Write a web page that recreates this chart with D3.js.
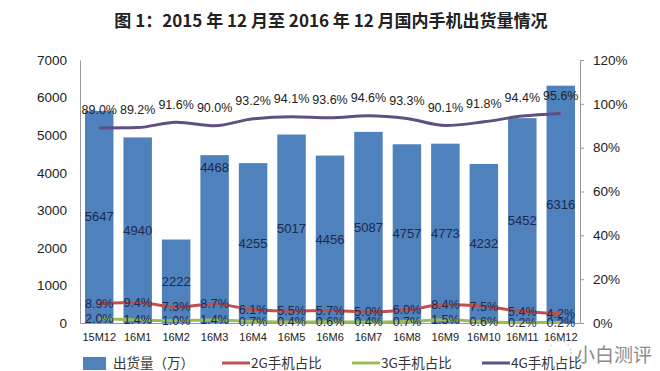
<!DOCTYPE html>
<html>
<head>
<meta charset="utf-8">
<script src="https://cdn.jsdelivr.net/npm/d3@7"></script>
<style>
  body { margin: 0; background: #fff; }
  svg { font-family: "Liberation Sans", "Noto Sans CJK SC", sans-serif; }
</style>
</head>
<body>
<svg id="chart" width="660" height="371"></svg>
<script>
// months, shipments (10k units) and share of each phone type (%)
var months = ["15M12","16M1","16M2","16M3","16M4","16M5","16M6","16M7","16M8","16M9","16M10","16M11","16M12"];
var shipments = [5647, 4940, 2222, 4468, 4255, 5017, 4456, 5087, 4757, 4773, 4232, 5452, 6316];
var share4G = [89.0, 89.2, 91.6, 90.0, 93.2, 94.1, 93.6, 94.6, 93.3, 90.1, 91.8, 94.4, 95.6];
var share2G = [8.9, 9.4, 7.3, 8.7, 6.1, 5.5, 5.7, 5.0, 6.0, 8.4, 7.5, 5.4, 4.2];
var share3G = [2.0, 1.4, 1.0, 1.4, 0.7, 0.4, 0.6, 0.4, 0.7, 1.5, 0.6, 0.2, 0.2];
var leftTicks = [0, 1000, 2000, 3000, 4000, 5000, 6000, 7000];
var rightTicks = [0, 20, 40, 60, 80, 100, 120];

var svg = d3.select("#chart");
var plot = {left: 80, right: 580, top: 60, bottom: 323};

/* title */
svg.append("text")
    .attr("x", 331).attr("y", 27)
    .attr("text-anchor", "middle")
    .style("font-family", "'Noto Sans CJK SC', sans-serif")
    .style("font-weight", "bold")
    .style("font-size", "17px")
    .style("fill", "#222")
    .text("图 1：2015 年 12 月至 2016 年 12 月国内手机出货量情况");

var x = d3.scaleBand().domain(months)
    .range([plot.left, plot.right])
    .paddingInner(0.26).paddingOuter(0.13);
var y = d3.scaleLinear().domain([0, 7000]).range([plot.bottom, plot.top]);
var yr = d3.scaleLinear().domain([0, 120]).range([plot.bottom, plot.top]);

/* left axis */
var gl = svg.append("g").attr("transform", "translate(" + plot.left + ",0)")
    .call(d3.axisLeft(y).tickValues(leftTicks).tickSize(0).tickPadding(13)
        .tickFormat(d3.format("d")));
gl.select(".domain").attr("stroke", "#999");
gl.selectAll("text").style("font-size", "13.5px").style("fill", "#222")
    .style("font-family", "'Liberation Sans', sans-serif");

/* right axis */
var gr = svg.append("g").attr("transform", "translate(" + plot.right + ",0)")
    .call(d3.axisRight(yr).tickValues(rightTicks).tickSize(4).tickPadding(9)
        .tickFormat(function (d) { return d + "%"; }));
gr.select(".domain").attr("stroke", "#999");
gr.selectAll("line").attr("stroke", "#999");
gr.selectAll("text").style("font-size", "13.5px").style("fill", "#222")
    .style("font-family", "'Liberation Sans', sans-serif");

/* bars */
svg.selectAll("rect.bar").data(shipments).enter().append("rect")
    .attr("class", "bar")
    .attr("x", function (d, i) { return x(months[i]); })
    .attr("width", x.bandwidth())
    .attr("y", function (d) { return y(d); })
    .attr("height", function (d) { return y(0) - y(d); })
    .attr("fill", "#4F81BD");

/* bottom axis */
var gb = svg.append("g").attr("transform", "translate(0," + plot.bottom + ")")
    .call(d3.axisBottom(x).tickSize(0).tickPadding(10));
gb.select(".domain").attr("stroke", "#999");
gb.selectAll("text").style("font-size", "11px").style("fill", "#222")
    .style("font-family", "'Liberation Sans', sans-serif");

// 16M3 label sits near the top of its bar in the original
var topLabel = {"16M3": true};
svg.selectAll("text.barval").data(shipments).enter().append("text")
    .attr("class", "barval")
    .attr("x", function (d, i) { return x(months[i]) + x.bandwidth() / 2; })
    .attr("y", function (d, i) {
        return topLabel[months[i]] ? y(d) + 12 : (y(d) + y(0)) / 2;
    })
    .attr("dy", "0.35em")
    .attr("text-anchor", "middle")
    .style("font-size", "13px")
    .style("fill", "#1c2a4e")
    .text(function (d) { return d; });

/* share lines */
var cx = function (i) { return x(months[i]) + x.bandwidth() / 2; };
var series = [
    {vals: share4G, color: "#5f4f82", labelDy: -18, labelColor: "#222"},
    {vals: share2G, color: "#c0504d", labelDy: 0, labelColor: "#1c2a4e"},
    {vals: share3G, color: "#9bbb59", labelDy: 0, labelColor: "#1c2a4e"}
];

var line = d3.line()
    .x(function (d, i) { return cx(i); })
    .y(function (d) { return yr(d); })
    .curve(d3.curveMonotoneX);

series.forEach(function (s) {
    svg.append("path")
        .attr("d", line(s.vals))
        .attr("fill", "none")
        .attr("stroke", s.color)
        .attr("stroke-width", 3);
});

series.forEach(function (s) {
    svg.append("g").selectAll("text").data(s.vals).enter().append("text")
        .attr("x", function (d, i) { return cx(i); })
        .attr("y", function (d) { return yr(d) + s.labelDy; })
        .attr("dy", "0.35em")
        .attr("text-anchor", "middle")
        .style("font-size", "12.5px")
        .style("fill", s.labelColor)
        .text(function (d) { return d.toFixed(1) + "%"; });
});

/* legend */
var legend = [
    {name: "出货量（万）", color: "#4F81BD", type: "box", x: 83},
    {name: "2G手机占比", color: "#c0504d", type: "line", x: 222},
    {name: "3G手机占比", color: "#9bbb59", type: "line", x: 352},
    {name: "4G手机占比", color: "#5f4f82", type: "line", x: 482}
];
var lg = svg.append("g");
legend.forEach(function (l) {
    if (l.type == "box")
        lg.append("rect").attr("x", l.x).attr("y", 357).attr("width", 23).attr("height", 13).attr("fill", l.color);
    else
        lg.append("line").attr("x1", l.x).attr("x2", l.x + 28).attr("y1", 363).attr("y2", 363)
            .attr("stroke", l.color).attr("stroke-width", 3);
    lg.append("text")
        .attr("x", l.x + (l.type == "box" ? 30 : 29)).attr("y", 368)
        .style("font-family", "'Noto Sans CJK SC', sans-serif")
        .style("font-size", "13.5px")
        .style("fill", "#333")
        .text(l.name);
});

/* watermark */
svg.append("circle").attr("cx", 560).attr("cy", 352).attr("r", 11)
    .attr("fill", "none").attr("stroke", "#bbb").attr("stroke-dasharray", "2,3");
svg.append("text")
    .attr("x", 576).attr("y", 362)
    .style("font-family", "'Noto Sans CJK SC', sans-serif")
    .style("font-size", "19px")
    .style("fill", "#8a8a8a")
    .text("小白测评");
</script>
</body>
</html>
